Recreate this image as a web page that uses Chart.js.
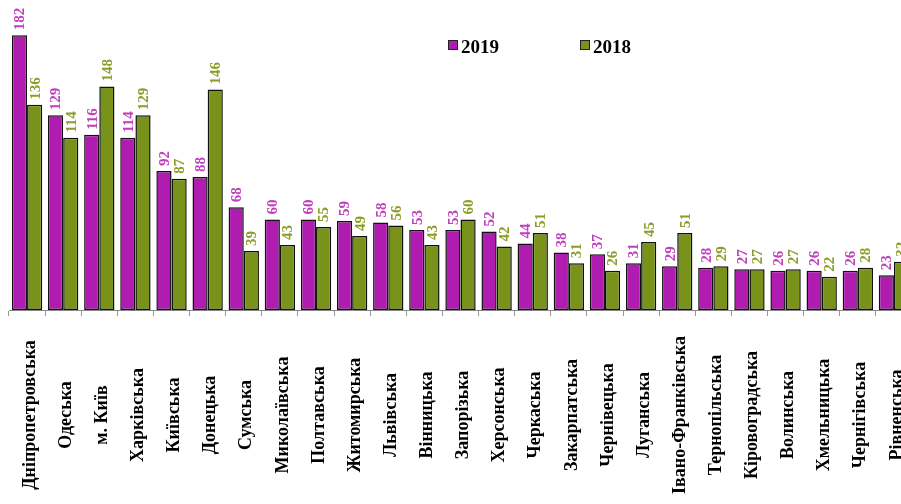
<!DOCTYPE html>
<html>
<head>
<meta charset="utf-8">
<script src="https://cdn.jsdelivr.net/npm/chart.js@4/dist/chart.umd.min.js"></script>
<style>
  html, body { margin: 0; padding: 0; background: #fff; overflow: hidden; }
  #wrap { width: 921px; height: 504px; }
</style>
</head>
<body>
<div id="wrap"><canvas id="chart" width="921" height="504"></canvas></div>
<script>
var regions = ["Дніпропетровська", "Одеська", "м. Київ", "Харківська", "Київська", "Донецька",
  "Сумська", "Миколаївська", "Полтавська", "Житомирська", "Львівська", "Вінницька",
  "Запорізька", "Херсонська", "Черкаська", "Закарпатська", "Чернівецька", "Луганська",
  "Івано-Франківська", "Тернопільська", "Кіровоградська", "Волинська", "Хмельницька",
  "Чернігівська", "Рівненська"]
var values2019 = [182, 129, 116, 114, 92, 88, 68, 60, 60, 59, 58, 53, 53, 52, 44, 38, 37, 31, 29, 28, 27, 26, 26, 26, 23]
var values2018 = [136, 114, 148, 129, 87, 146, 39, 43, 55, 49, 56, 43, 60, 42, 51, 31, 26, 45, 51, 29, 27, 27, 22, 28, 32]

var purple = "#b01cb0"
var olive = "#78921a"
var purpleText = "#c040bd"
var oliveText = "#8e9c2a"
var serif = "'Liberation Serif', 'Times New Roman', serif"

// numbers above bars, written vertically
var valueLabels = {
  id: "valueLabels",
  afterDatasetsDraw: function(chart) {
    var ctx = chart.ctx
    ctx.save()
    ctx.font = "bold 15px " + serif
    ctx.textAlign = "left"
    ctx.textBaseline = "middle"
    chart.data.datasets.forEach(function(ds, di) {
      var meta = chart.getDatasetMeta(di)
      ctx.fillStyle = di == 0 ? purpleText : oliveText
      meta.data.forEach(function(bar, i) {
        ctx.save()
        ctx.translate(bar.x + 1, bar.y - 5)
        ctx.rotate(-Math.PI / 2)
        ctx.fillText(ds.data[i], 0, 0)
        ctx.restore()
      })
    })
    ctx.restore()
  }
}

// region names under the axis, rotated and centred on one line
var regionLabels = {
  id: "regionLabels",
  afterDraw: function(chart) {
    var ctx = chart.ctx
    var x = chart.scales.x
    ctx.save()
    ctx.font = "bold 18px " + serif
    ctx.fillStyle = "#000"
    ctx.textAlign = "center"
    ctx.textBaseline = "middle"
    chart.data.labels.forEach(function(lbl, i) {
      ctx.save()
      ctx.translate(x.getPixelForValue(i) + 3, 415)
      ctx.rotate(-Math.PI / 2)
      ctx.fillText(lbl, 0, 0)
      ctx.restore()
    })
    ctx.restore()
  }
}

// legend boxes in the top right part
var legendBoxes = {
  id: "legendBoxes",
  afterDraw: function(chart) {
    var ctx = chart.ctx
    var spots = [448, 580]
    ctx.save()
    ctx.font = "bold 19px " + serif
    ctx.textBaseline = "alphabetic"
    chart.data.datasets.forEach(function(ds, di) {
      var lx = spots[di]
      ctx.fillStyle = ds.backgroundColor
      ctx.fillRect(lx, 40, 10, 10)
      ctx.strokeStyle = "#222"
      ctx.lineWidth = 1
      ctx.strokeRect(lx + 0.5, 40.5, 9, 9)
      ctx.fillStyle = "#000"
      ctx.fillText(ds.label, lx + 13, 53)
    })
    ctx.restore()
  }
}

new Chart(document.getElementById("chart"), {
  type: "bar",
  data: {
    labels: regions,
    datasets: [
      { label: "2019", data: values2019, backgroundColor: purple, borderColor: "#111", borderWidth: 1.5, borderSkipped: false },
      { label: "2018", data: values2018, backgroundColor: olive, borderColor: "#111", borderWidth: 1.5, borderSkipped: false }
    ]
  },
  options: {
    responsive: false,
    animation: false,
    events: [],
    layout: { padding: { left: 9, right: 9, top: 8, bottom: 188 } },
    datasets: { bar: { categoryPercentage: 0.84, barPercentage: 1.0 } },
    plugins: {
      legend: { display: false },
      tooltip: { enabled: false }
    },
    scales: {
      x: {
        offset: true,
        grid: { offset: true, drawOnChartArea: false, drawTicks: true, tickLength: 6, color: "#999" },
        border: { color: "#888", width: 1 },
        ticks: { display: false }
      },
      y: {
        display: false,
        min: 0,
        max: 200
      }
    }
  },
  plugins: [valueLabels, regionLabels, legendBoxes]
})
</script>
</body>
</html>
